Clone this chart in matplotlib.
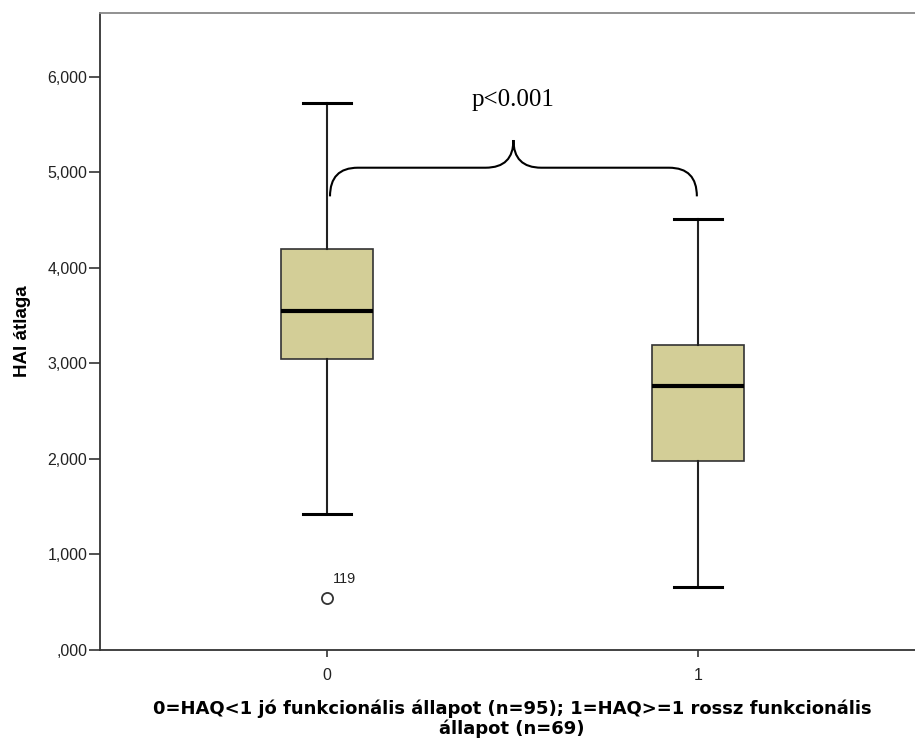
import matplotlib
matplotlib.use("Agg")
import matplotlib.pyplot as plt
from matplotlib.path import Path
from matplotlib.patches import PathPatch

# box plot statistics (HAI átlaga)
groups = ["0", "1"]
q1 = [3.05, 1.98]
median = [3.55, 2.76]
q3 = [4.20, 3.19]
whisker_low = [1.42, 0.66]
whisker_high = [5.73, 4.51]
outliers = [[0.545], []]
outlier_ids = [["119"], []]
yticks = [0, 1, 2, 3, 4, 5, 6]
ytick_labels = [",000", "1,000", "2,000", "3,000", "4,000", "5,000", "6,000"]
p_text = "p<0.001"

box_color = "#d3ce97"

fig = plt.figure(figsize=(9.15, 7.4), dpi=100)
ax = fig.add_axes([100 / 915, 1 - 650 / 740, 1 - 100 / 915, (650 - 13) / 740])

stats = []
for i in range(len(groups)):
    stats.append({"q1": q1[i], "med": median[i], "q3": q3[i],
                  "whislo": whisker_low[i], "whishi": whisker_high[i],
                  "fliers": outliers[i], "label": groups[i]})

positions = list(range(len(groups)))
ax.bxp(stats, positions=positions, widths=0.25, patch_artist=True,
       capwidths=0.127,
       boxprops=dict(facecolor=box_color, edgecolor="#333333", linewidth=1.2),
       medianprops=dict(color="black", linewidth=3),
       whiskerprops=dict(color="#222222", linewidth=1.5),
       capprops=dict(color="black", linewidth=2.2),
       flierprops=dict(marker="o", markerfacecolor="white", markeredgecolor="#333333",
                       markersize=8, markeredgewidth=1.3))

for i in positions:
    for v, lab in zip(outliers[i], outlier_ids[i]):
        ax.text(i + 0.015, v + 0.13, lab, fontsize=10.5, family="Liberation Sans",
                ha="left", va="bottom", color="#222222")

ax.set_xlim(-0.612, 1.585)
ax.set_ylim(0, 6.67)
ax.set_yticks(yticks)
ax.set_yticklabels(ytick_labels, family="Liberation Sans", fontsize=11.5, color="#222222")
ax.set_xticks(positions)
ax.set_xticklabels(groups, family="Liberation Sans", fontsize=11.5, color="#222222")
ax.tick_params(axis="y", length=8, width=1.2, color="#333333", pad=1)
ax.tick_params(axis="x", length=5, width=1.2, color="#333333", pad=8)

for s in ["left", "bottom"]:
    ax.spines[s].set_color("#333333")
    ax.spines[s].set_linewidth(1.3)
ax.spines["top"].set_color("#888888")
ax.spines["top"].set_linewidth(1.3)
ax.spines["right"].set_visible(False)

ax.set_ylabel("HAI átlaga", family="Liberation Sans", fontsize=13.5, fontweight="bold", labelpad=12)
fig.text(512 / 915, 1 - 719 / 740,
         "0=HAQ<1 jó funkcionális állapot (n=95); 1=HAQ>=1 rossz funkcionális\nállapot (n=69)",
         ha="center", va="center", family="DejaVu Sans", fontsize=13,
         fontweight="bold", linespacing=1.12)

# curly brace between the two groups
x0, x1 = positions[0] + 0.008, positions[1] - 0.003
xm = (x0 + x1) / 2
y_end, y_lvl, y_tip = 4.75, 5.05, 5.34
r = 0.075
verts = [(x0, y_end), (x0, y_lvl), (x0 + r, y_lvl),
         (xm - r, y_lvl), (xm, y_lvl), (xm, y_tip),
         (xm, y_lvl), (xm + r, y_lvl),
         (x1 - r, y_lvl), (x1, y_lvl), (x1, y_end)]
codes = [Path.MOVETO, Path.CURVE3, Path.CURVE3,
         Path.LINETO, Path.CURVE3, Path.CURVE3,
         Path.CURVE3, Path.CURVE3,
         Path.LINETO, Path.CURVE3, Path.CURVE3]
ax.add_patch(PathPatch(Path(verts, codes), facecolor="none", edgecolor="black", linewidth=1.5))
ax.text(xm, 5.76, p_text, ha="center", va="center", family="Liberation Serif", fontsize=18)

fig.savefig("out.png", dpi=100)
